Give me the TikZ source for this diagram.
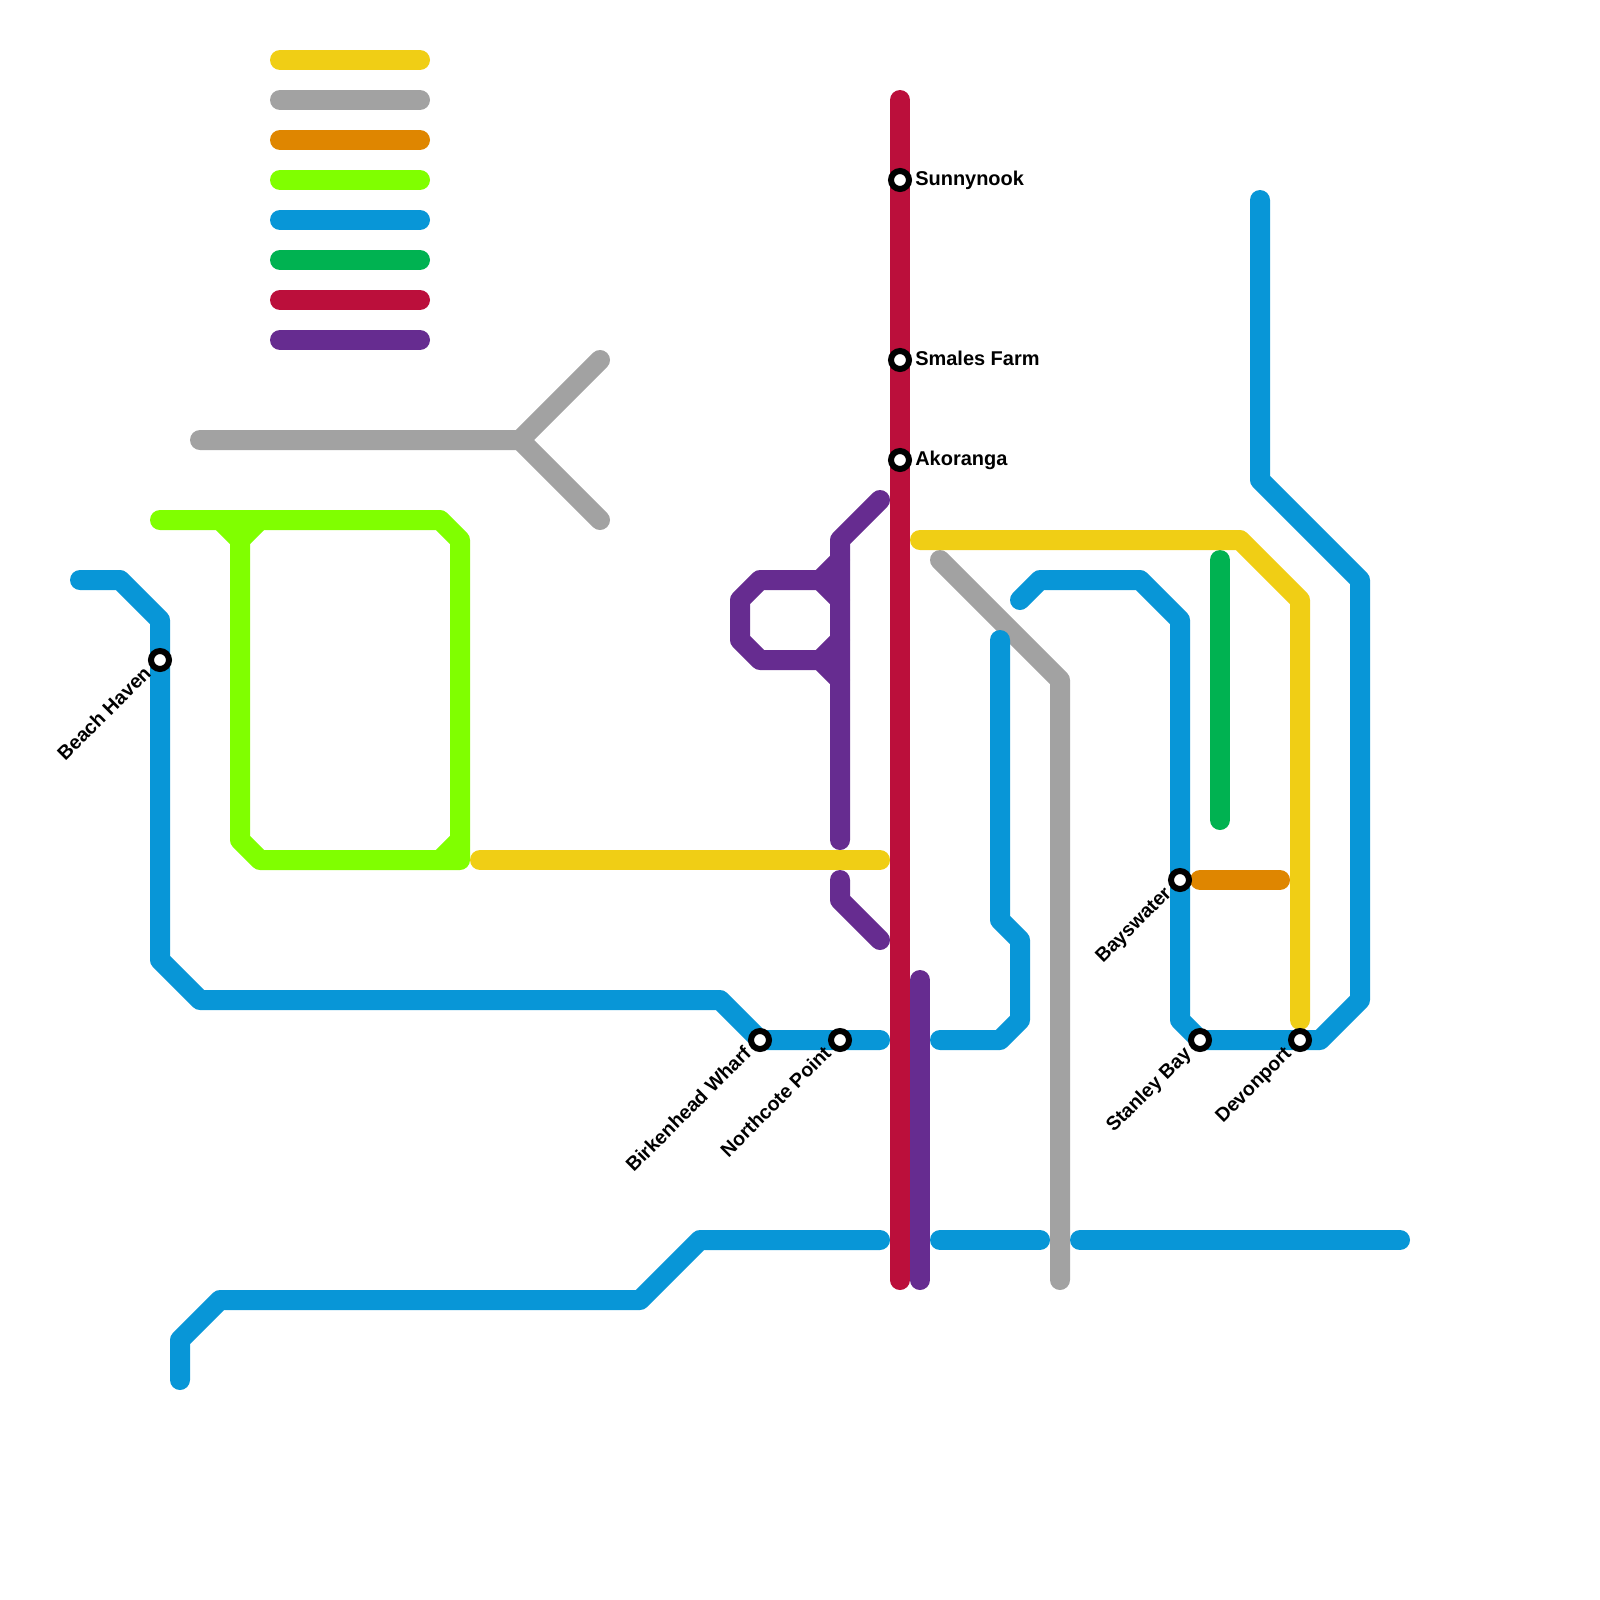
\documentclass[tikz,border=0pt]{standalone}
\usepackage{fontspec}
\setmainfont{Liberation Sans}
\usepackage{xcolor}
\usetikzlibrary{positioning}
\definecolor{lineyellow}{HTML}{F0CE15}
\definecolor{linegray}{HTML}{A2A2A2}
\definecolor{lineorange}{HTML}{DF8600}
\definecolor{linelime}{HTML}{80FF00}
\definecolor{lineblue}{HTML}{0896D7}
\definecolor{linegreen}{HTML}{00B251}
\definecolor{linered}{HTML}{BB0F3B}
\definecolor{linepurple}{HTML}{662C90}
\begin{document}
\begin{tikzpicture}[
		x=0.5cm,
		y=-0.5cm,
		font=\fontsize{14.2}{16}\selectfont\bfseries,
		route/.style={line width=0.5cm, line cap=round, line join=round},
		station/.style={circle, draw=black, fill=white, line width=0.15cm, minimum size=0.45cm, inner sep=0pt, outer sep=0pt},
		nameright/.style={anchor=base west, inner sep=0pt, xshift=0.375cm, yshift=-0.125cm},
		nameleft/.style={anchor=base east, inner sep=0pt, rotate=45, xshift=-0.39cm, yshift=-0.12cm, font=\fontsize{13.9}{16}\selectfont\bfseries}
		]
		\useasboundingbox (0,0) rectangle (80,80);
		
		% Legend
		\draw[route, lineyellow] (14,3) -- (21,3);
		\draw[route, linegray] (14,5) -- (21,5);
		\draw[route, lineorange] (14,7) -- (21,7);
		\draw[route, linelime] (14,9) -- (21,9);
		\draw[route, lineblue] (14,11) -- (21,11);
		\draw[route, linegreen] (14,13) -- (21,13);
		\draw[route, linered] (14,15) -- (21,15);
		\draw[route, linepurple] (14,17) -- (21,17);
		
		% Gray
		\draw[route, linegray] (10,22) -- (26,22) -- (30,18);
		\draw[route, linegray] (26,22) -- (30,26);
		\draw[route, linegray] (47,28) -- (53,34) -- (53,64);
		
		% Lime
		\draw[route, linelime] (8,26) -- (22,26) -- (23,27) -- (23,43) -- (13,43) -- (12,42) -- (12,27);
		\draw[route, linelime] (11,26) -- (12,27) -- (13,26);
		\draw[route, linelime] (22,43) -- (23,42);
		
		% Blue
		\draw[route, lineblue] (4,29) -- (6,29) -- (8,31) -- (8,48) -- (10,50) -- (36,50) -- (38,52) -- (44,52);
		\draw[route, lineblue] (9,69) -- (9,67) -- (11,65) -- (32,65) -- (35,62) -- (44,62);
		\draw[route, lineblue] (47,62) -- (52,62);
		\draw[route, lineblue] (54,62) -- (70,62);
		\draw[route, lineblue] (47,52) -- (50,52) -- (51,51) -- (51,47) -- (50,46) -- (50,32);
		\draw[route, lineblue] (51,30) -- (52,29) -- (57,29) -- (59,31) -- (59,51) -- (60,52) -- (66,52) -- (68,50) -- (68,29) -- (63,24) -- (63,10);
		
		% Green, orange
		\draw[route, linegreen] (61,28) -- (61,41);
		\draw[route, lineorange] (60,44) -- (64,44);
		
		% Yellow
		\draw[route, lineyellow] (46,27) -- (62,27) -- (65,30) -- (65,51);
		\draw[route, lineyellow] (24,43) -- (44,43);
		
		% Purple
		\draw[route, linepurple] (44,25) -- (42,27) -- (42,42);
		\draw[route, linepurple] (42,28) -- (41,29) -- (38,29) -- (37,30) -- (37,32) -- (38,33) -- (41,33) -- (42,34);
		\draw[route, linepurple] (41,29) -- (42,30);
		\draw[route, linepurple] (41,33) -- (42,32);
		\draw[route, linepurple] (42,44) -- (42,45) -- (44,47);
		\draw[route, linepurple] (46,49) -- (46,64);
		
		% Red
		\draw[route, linered] (45,5) -- (45,64);
		
		% Stations
		\node[station] (sunnynook) at (45,9) {};
		\node[station] (smales) at (45,18) {};
		\node[station] (akoranga) at (45,23) {};
		\node[station] (beach) at (8,33) {};
		\node[station] (birkenhead) at (38,52) {};
		\node[station] (northcote) at (42,52) {};
		\node[station] (bayswater) at (59,44) {};
		\node[station] (stanley) at (60,52) {};
		\node[station] (devonport) at (65,52) {};
		
		% Names
		\node[nameright] (sunnynookname) at (sunnynook.center) {Sunnynook};
		\node[nameright] (smalesname) at (smales.center) {Smales Farm};
		\node[nameright] (akoranganame) at (akoranga.center) {Akoranga};
		\node[nameleft] (beachname) at (beach.center) {Beach Haven};
		\node[nameleft] (birkenheadname) at (birkenhead.center) {Birkenhead Wharf};
		\node[nameleft] (northcotename) at (northcote.center) {Northcote Point};
		\node[nameleft] (bayswatername) at (bayswater.center) {Bayswater};
		\node[nameleft] (stanleyname) at (stanley.center) {Stanley Bay};
		\node[nameleft] (devonportname) at (devonport.center) {Devonport};
	\end{tikzpicture}
\end{document}
